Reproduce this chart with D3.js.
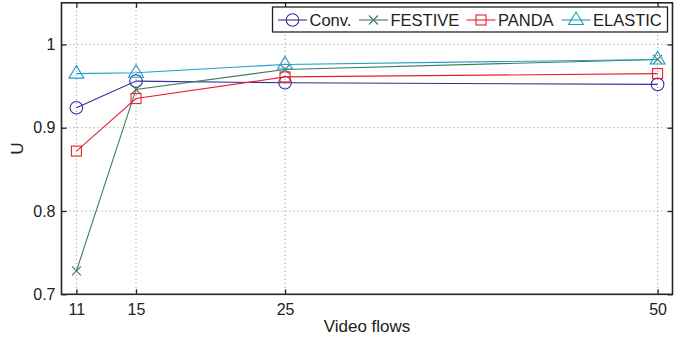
<!DOCTYPE html>
<html>
<head>
<meta charset="utf-8">
<script src="https://cdn.jsdelivr.net/npm/d3@7"></script>
<style>
  html, body { margin: 0; padding: 0; background: #fff; }
  svg { display: block; font-family: "Liberation Sans", Arial, Helvetica, sans-serif; }
</style>
</head>
<body>
<svg id="chart" width="686" height="337"></svg>
<script>
// Number of video flows on the x axis
const flows = [11, 15, 25, 50];
// Utilisation U per scheme
const conv    = [0.924, 0.956, 0.954, 0.952];
const festive = [0.728, 0.946, 0.970, 0.982];
const panda   = [0.872, 0.935, 0.961, 0.965];
const elastic = [0.965, 0.966, 0.976, 0.982];
const xTicks = [11, 15, 25, 50];
const yTicks = [0.7, 0.8, 0.9, 1];

const series = [
  { name: "Conv.",   values: conv,    color: "#2f2f9c", marker: "circle" },
  { name: "FESTIVE", values: festive, color: "#3e7c5c", marker: "cross" },
  { name: "PANDA",   values: panda,   color: "#ec1f27", marker: "square" },
  { name: "ELASTIC", values: elastic, color: "#1c9fca", marker: "triangle" }
];

const svg = d3.select("#chart");
const plotL = 61.5, plotR = 672.5, plotT = 2.8, plotB = 294.3;

const x = d3.scaleLinear().domain([10, 51]).range([plotL, plotR]);
const y = d3.scaleLinear().domain([0.7, 1.05]).range([plotB, plotT]);

// dotted grid
const grid = svg.append("g");
grid.selectAll("line.vx").data(xTicks).join("line")
  .attr("x1", d => x(d)).attr("x2", d => x(d))
  .attr("y1", plotT).attr("y2", plotB)
  .attr("stroke", "#8a8a8a").attr("stroke-width", 1).attr("stroke-dasharray", "1,3");
grid.selectAll("line.hy").data(yTicks.filter(d => d > 0.7)).join("line")
  .attr("x1", plotL).attr("x2", plotR)
  .attr("y1", d => y(d)).attr("y2", d => y(d))
  .attr("stroke", "#8a8a8a").attr("stroke-width", 1).attr("stroke-dasharray", "1,3");

// axes with inward ticks on all four sides
const tickLen = 5;
const axisB = d3.axisBottom(x).tickValues(xTicks).tickSize(-tickLen).tickPadding(9).tickFormat(d3.format("d"));
const axisT = d3.axisTop(x).tickValues(xTicks).tickSize(-tickLen).tickFormat("");
const axisL = d3.axisLeft(y).tickValues(yTicks).tickSize(-tickLen).tickPadding(6).tickFormat(d => d === 1 ? "1" : d3.format(".1f")(d));
const axisR = d3.axisRight(y).tickValues(yTicks).tickSize(-tickLen).tickFormat("");

function styleAxis(g) {
  g.select(".domain").remove();
  g.selectAll(".tick line").attr("stroke", "#222").attr("stroke-width", 1.3);
  g.selectAll(".tick text").attr("fill", "#222").style("font-size", "16px")
    .style("font-family", "'Liberation Sans', Arial, sans-serif");
}
svg.append("g").attr("transform", `translate(0,${plotB})`).call(axisB).call(styleAxis);
svg.append("g").attr("transform", `translate(0,${plotT})`).call(axisT).call(styleAxis);
svg.append("g").attr("transform", `translate(${plotL},0)`).call(axisL).call(styleAxis);
svg.append("g").attr("transform", `translate(${plotR},0)`).call(axisR).call(styleAxis);

// box
svg.append("rect")
  .attr("x", plotL).attr("y", plotT).attr("width", plotR - plotL).attr("height", plotB - plotT)
  .attr("fill", "none").attr("stroke", "#262626").attr("stroke-width", 1.6);

// axis titles
svg.append("text").attr("x", (plotL + plotR) / 2).attr("y", 331.5)
  .attr("text-anchor", "middle").attr("fill", "#222").style("font-size", "17px")
  .text("Video flows");
svg.append("text").attr("transform", `translate(23,${(plotT + plotB) / 2}) rotate(-90)`)
  .attr("text-anchor", "middle").attr("fill", "#222").style("font-size", "17px")
  .text("U");

// marker glyphs
function drawMarker(g, type, cx, cy, color) {
  if (type === "circle") {
    g.append("circle").attr("cx", cx).attr("cy", cy).attr("r", 6.3)
      .attr("fill", "none").attr("stroke", color).attr("stroke-width", 1.1);
  } else if (type === "square") {
    g.append("rect").attr("x", cx - 5).attr("y", cy - 5).attr("width", 10).attr("height", 10)
      .attr("fill", "none").attr("stroke", color).attr("stroke-width", 1.1);
  } else if (type === "triangle") {
    g.append("path")
      .attr("d", `M${cx},${cy - 8} L${cx + 7.5},${cy + 4.5} L${cx - 7.5},${cy + 4.5} Z`)
      .attr("fill", "none").attr("stroke", color).attr("stroke-width", 1.1);
  } else if (type === "cross") {
    const s = 4.5;
    g.append("path")
      .attr("d", `M${cx - s},${cy - s} L${cx + s},${cy + s} M${cx - s},${cy + s} L${cx + s},${cy - s}`)
      .attr("fill", "none").attr("stroke", color).attr("stroke-width", 1.1);
  }
}

// series lines and markers
const line = d3.line().x(d => x(d[0])).y(d => y(d[1]));
const plot = svg.append("g");
series.forEach(s => {
  const pts = flows.map((f, i) => [f, s.values[i]]);
  plot.append("path").datum(pts).attr("d", line)
    .attr("fill", "none").attr("stroke", s.color).attr("stroke-width", 1.1);
  const mg = plot.append("g");
  pts.forEach(p => drawMarker(mg, s.marker, x(p[0]), y(p[1]), s.color));
});

// legend
const lg = svg.append("g");
lg.append("rect").attr("x", 272.5).attr("y", 7).attr("width", 395).attr("height", 25)
  .attr("fill", "#fff").attr("stroke", "#222").attr("stroke-width", 1.3);
const legendX = [278, 359, 466.5, 561.5];
series.forEach((s, i) => {
  const lx = legendX[i], ly = 20;
  lg.append("line").attr("x1", lx).attr("x2", lx + 29).attr("y1", ly).attr("y2", ly)
    .attr("stroke", s.color).attr("stroke-width", 1.1);
  drawMarker(lg, s.marker, lx + 14.5, ly, s.color);
  lg.append("text").attr("x", lx + 31.5).attr("y", ly + 6.3)
    .attr("fill", "#222").style("font-size", "16.5px").text(s.name);
});
</script>
</body>
</html>
